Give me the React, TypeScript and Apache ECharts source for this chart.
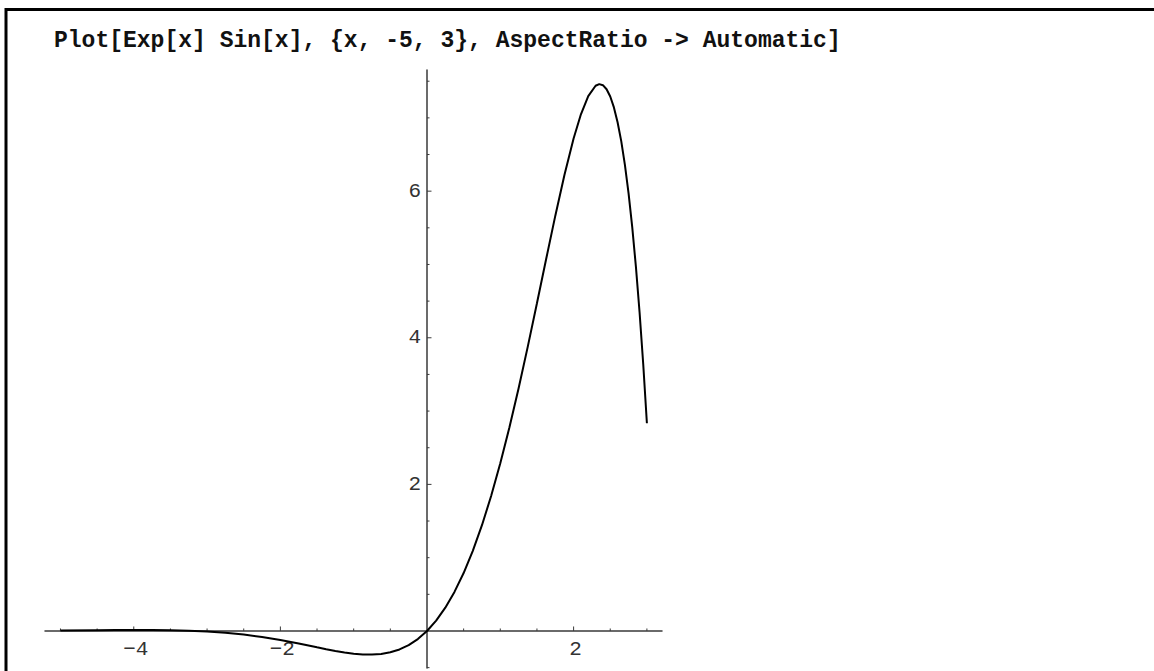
import React, { useEffect, useRef } from "react";
import * as echarts from "echarts";

const titleText = "Plot[Exp[x] Sin[x], {x, -5, 3}, AspectRatio -> Automatic]";

// curve points: [x, y]
const curveX = [
  -5, -4.5, -4.25, -4, -3.75, -3.5, -3.25, -3, -2.75, -2.5, -2.25, -2, -1.75, -1.5, -1.375,
  -1.25, -1.125, -1, -0.875, -0.75, -0.625, -0.5, -0.375, -0.25, -0.125, 0, 0.125, 0.25, 0.375,
  0.5, 0.625, 0.75, 0.875, 1, 1.125, 1.25, 1.375, 1.5, 1.625, 1.75, 1.875, 2, 2.1, 2.2, 2.3,
  2.35, 2.4, 2.45, 2.5, 2.55, 2.6, 2.65, 2.7, 2.75, 2.8, 2.85, 2.9, 2.95, 3,
];
const curveY = [
  0.0065, 0.0109, 0.0128, 0.0139, 0.0134, 0.0106, 0.0042, -0.007, -0.0244, -0.0491, -0.082,
  -0.1231, -0.171, -0.2226, -0.248, -0.2719, -0.2929, -0.3096, -0.32, -0.322, -0.3132, -0.2908,
  -0.2517, -0.1927, -0.11, 0, 0.1413, 0.3177, 0.5329, 0.7904, 1.0931, 1.443, 1.8412, 2.2874,
  2.7792, 3.3123, 3.8795, 4.4705, 5.071, 5.6625, 6.2198, 6.7189, 7.0491, 7.2967, 7.4378, 7.4602,
  7.4458, 7.3906, 7.2909, 7.1423, 6.9406, 6.6819, 6.3593, 5.9702, 5.5088, 4.9699, 4.3482, 3.6383,
  2.8345,
];

const xMinorTicks = [-5, -4.5, -4, -3.5, -3, -2.5, -2, -1.5, -1, -0.5, 0.5, 1, 1.5, 2, 2.5, 3];
const xMajorLabels = [-4, -2, 2];
const yMinorTicks = [-0.5, 0.5, 1, 1.5, 2, 2.5, 3, 3.5, 4, 4.5, 5, 5.5, 6, 6.5, 7, 7.5];
const yMajorLabels = [2, 4, 6];

const xMin = -5.211;
const xMax = 3.206;
const yMin = -0.505;
const yMax = 7.653;

export default function App() {
  const ref = useRef<HTMLDivElement>(null);
  useEffect(() => {
    if (!ref.current) return;
    const chart = echarts.init(ref.current, null, { renderer: "svg" });
    const fmt = (v: number) => String(v).replace("-", "\u2212");
    const axisColor = "#3a3a3a";
    const labelFont = "21px 'Liberation Mono'";
    const labelColor = "#333333";
    chart.setOption({
      animation: false,
      backgroundColor: "#ffffff",
      grid: {
        left: 45,
        right: 492,
        top: 70,
        bottom: 3,
        containLabel: false,
        outerBoundsMode: "none",
      },
      xAxis: {
        type: "value",
        min: xMin,
        max: xMax,
        axisLine: { show: true, onZero: true, lineStyle: { color: axisColor, width: 1.5 } },
        axisTick: { show: false },
        splitLine: { show: false },
        axisLabel: { show: false },
      },
      yAxis: {
        type: "value",
        min: yMin,
        max: yMax,
        axisLine: { show: true, onZero: true, lineStyle: { color: axisColor, width: 1.5 } },
        axisTick: { show: false },
        splitLine: { show: false },
        axisLabel: { show: false },
      },
      graphic: [
        {
          type: "rect",
          shape: { x: 6, y: 9.5, width: 1300, height: 900 },
          style: { fill: "none", stroke: "#000", lineWidth: 3 },
          silent: true,
        },
        {
          type: "text",
          x: 54,
          y: 41,
          style: {
            text: titleText,
            font: "bold 23px 'Liberation Mono'",
            fill: "#111",
            verticalAlign: "middle",
          },
        },
      ],
      series: [
        {
          type: "line",
          data: curveX.map((x, i) => [x, curveY[i]]),
          showSymbol: false,
          symbol: "none",
          lineStyle: { color: "#000", width: 2 },
          clip: false,
          z: 5,
        },
        {
          type: "custom",
          coordinateSystem: "cartesian2d",
          data: xMinorTicks.map((v) => [v, 0]),
          clip: false,
          renderItem: (params: any, api: any) => {
            const v = api.value(0);
            const p = api.coord([v, 0]);
            const len = Number.isInteger(v) && v % 2 === 0 ? 4.5 : 2.5;
            return {
              type: "line",
              shape: { x1: p[0], y1: p[1], x2: p[0], y2: p[1] - len },
              style: { stroke: axisColor, lineWidth: 1 },
            };
          },
        },
        {
          type: "custom",
          coordinateSystem: "cartesian2d",
          data: yMinorTicks.map((v) => [0, v]),
          clip: false,
          renderItem: (params: any, api: any) => {
            const v = api.value(1);
            const p = api.coord([0, v]);
            const len = Number.isInteger(v) && v % 2 === 0 ? 4.5 : 2.5;
            return {
              type: "line",
              shape: { x1: p[0], y1: p[1], x2: p[0] + len, y2: p[1] },
              style: { stroke: axisColor, lineWidth: 1 },
            };
          },
        },
        {
          type: "custom",
          coordinateSystem: "cartesian2d",
          data: xMajorLabels.map((v) => [v, 0]),
          clip: false,
          renderItem: (params: any, api: any) => {
            const v = api.value(0);
            const p = api.coord([v, 0]);
            return {
              type: "text",
              x: p[0] + 2,
              y: p[1] + 8,
              style: {
                text: fmt(v),
                font: labelFont,
                fill: labelColor,
                align: "center",
                verticalAlign: "top",
              },
            };
          },
        },
        {
          type: "custom",
          coordinateSystem: "cartesian2d",
          data: yMajorLabels.map((v) => [0, v]),
          clip: false,
          renderItem: (params: any, api: any) => {
            const v = api.value(1);
            const p = api.coord([0, v]);
            return {
              type: "text",
              x: p[0] - 6,
              y: p[1],
              style: {
                text: fmt(v),
                font: labelFont,
                fill: labelColor,
                align: "right",
                verticalAlign: "middle",
              },
            };
          },
        },
      ],
    });
    return () => chart.dispose();
  }, []);
  return (
    <div
      ref={ref}
      style={{ position: "fixed", left: 0, top: 0, width: 1154, height: 671, background: "#fff" }}
    />
  );
}
